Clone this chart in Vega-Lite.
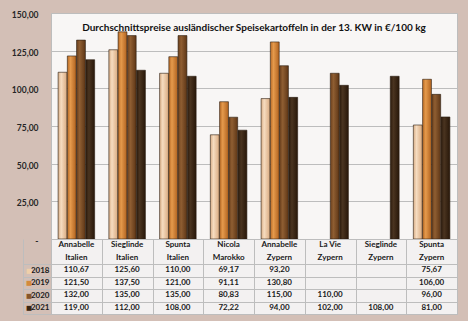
{
  "$schema": "https://vega.github.io/schema/vega-lite/v6.json",
  "background": "#d3bfb6",
  "padding": {"left": 10, "top": 10, "right": 12, "bottom": 7},
  "config": {
    "locale": {"number": {"decimal": ",", "thousands": ".", "grouping": [3], "currency": ["", " €"]}},
    "font": "Lato",
    "view": {"stroke": null}
  },
  "datasets": {
    "prices": [
      {"cat": "Annabelle Italien", "year": "2018", "value": 110.67},
      {"cat": "Annabelle Italien", "year": "2019", "value": 121.50},
      {"cat": "Annabelle Italien", "year": "2020", "value": 132.00},
      {"cat": "Annabelle Italien", "year": "2021", "value": 119.00},
      {"cat": "Sieglinde Italien", "year": "2018", "value": 125.60},
      {"cat": "Sieglinde Italien", "year": "2019", "value": 137.50},
      {"cat": "Sieglinde Italien", "year": "2020", "value": 135.00},
      {"cat": "Sieglinde Italien", "year": "2021", "value": 112.00},
      {"cat": "Spunta Italien", "year": "2018", "value": 110.00},
      {"cat": "Spunta Italien", "year": "2019", "value": 121.00},
      {"cat": "Spunta Italien", "year": "2020", "value": 135.00},
      {"cat": "Spunta Italien", "year": "2021", "value": 108.00},
      {"cat": "Nicola Marokko", "year": "2018", "value": 69.17},
      {"cat": "Nicola Marokko", "year": "2019", "value": 91.11},
      {"cat": "Nicola Marokko", "year": "2020", "value": 80.83},
      {"cat": "Nicola Marokko", "year": "2021", "value": 72.22},
      {"cat": "Annabelle Zypern", "year": "2018", "value": 93.20},
      {"cat": "Annabelle Zypern", "year": "2019", "value": 130.80},
      {"cat": "Annabelle Zypern", "year": "2020", "value": 115.00},
      {"cat": "Annabelle Zypern", "year": "2021", "value": 94.00},
      {"cat": "La Vie Zypern", "year": "2020", "value": 110.00},
      {"cat": "La Vie Zypern", "year": "2021", "value": 102.00},
      {"cat": "Sieglinde Zypern", "year": "2021", "value": 108.00},
      {"cat": "Spunta Zypern", "year": "2018", "value": 75.67},
      {"cat": "Spunta Zypern", "year": "2019", "value": 106.00},
      {"cat": "Spunta Zypern", "year": "2020", "value": 96.00},
      {"cat": "Spunta Zypern", "year": "2021", "value": 81.00}
    ],
    "cats": [
      {"cat": "Annabelle Italien", "variety": "Annabelle", "country": "Italien"},
      {"cat": "Sieglinde Italien", "variety": "Sieglinde", "country": "Italien"},
      {"cat": "Spunta Italien", "variety": "Spunta", "country": "Italien"},
      {"cat": "Nicola Marokko", "variety": "Nicola", "country": "Marokko"},
      {"cat": "Annabelle Zypern", "variety": "Annabelle", "country": "Zypern"},
      {"cat": "La Vie Zypern", "variety": "La Vie", "country": "Zypern"},
      {"cat": "Sieglinde Zypern", "variety": "Sieglinde", "country": "Zypern"},
      {"cat": "Spunta Zypern", "variety": "Spunta", "country": "Zypern"}
    ]
  },
  "bounds": "flush",
  "spacing": 0,
  "vconcat": [
    {
      "width": 406,
      "height": 226,
      "data": {"name": "prices"},
      "view": {"fill": "#f8f6f5", "stroke": "#bdbdbd"},
      "title": {"text": "Durchschnittspreise ausländischer Speisekartoffeln in der 13. KW in €/100 kg", "fontSize": 10, "fontWeight": "bold", "color": "#111111", "anchor": "middle", "frame": "group", "offset": -22},
      "mark": {"type": "bar", "stroke": "#2a1c10", "strokeWidth": 0.6},
      "encoding": {
        "x": {"field": "cat", "type": "nominal", "sort": ["Annabelle Italien", "Sieglinde Italien", "Spunta Italien", "Nicola Marokko", "Annabelle Zypern", "La Vie Zypern", "Sieglinde Zypern", "Spunta Zypern"], "scale": {"paddingInner": 0.28, "paddingOuter": 0.14}, "axis": null},
        "xOffset": {"field": "year", "type": "nominal", "scale": {"domain": ["2018", "2019", "2020", "2021"], "paddingInner": 0.04}},
        "y": {"field": "value", "type": "quantitative", "scale": {"domain": [0, 150], "nice": false},
          "axis": {"values": [0, 25, 50, 75, 100, 125, 150], "format": ".2f", "labelExpr": "datum.value == 0 ? '-\u2002\u2006' : datum.label", "labelPadding": 13, "labelOffset": 1.5, "ticks": false, "domain": false, "grid": true, "gridColor": "#bdbdbd", "labelFontSize": 8.5, "labelFontWeight": "bold", "labelColor": "#262626", "title": null}},
        "fill": {
          "condition": [
            {"test": "datum.year == '2018'", "value": {"gradient": "linear", "x1": 0, "x2": 1, "y1": 0, "y2": 0, "stops": [{"offset": 0, "color": "#d8ad86"}, {"offset": 0.35, "color": "#f6dcc0"}, {"offset": 1, "color": "#d9aa80"}]}},
            {"test": "datum.year == '2019'", "value": {"gradient": "linear", "x1": 0, "x2": 1, "y1": 0, "y2": 0, "stops": [{"offset": 0, "color": "#b86a25"}, {"offset": 0.35, "color": "#e59a4c"}, {"offset": 1, "color": "#b0621f"}]}},
            {"test": "datum.year == '2020'", "value": {"gradient": "linear", "x1": 0, "x2": 1, "y1": 0, "y2": 0, "stops": [{"offset": 0, "color": "#6a3f1c"}, {"offset": 0.35, "color": "#8f5e32"}, {"offset": 1, "color": "#5e3616"}]}}
          ],
          "value": {"gradient": "linear", "x1": 0, "x2": 1, "y1": 0, "y2": 0, "stops": [{"offset": 0, "color": "#2c1b0d"}, {"offset": 0.35, "color": "#4a3420"}, {"offset": 1, "color": "#281709"}]}
        }
      }
    },
    {
      "width": 406,
      "height": 75,
      "view": {"fill": "#f3f1f1", "stroke": "#bdbdbd"},
      "resolve": {"scale": {"y": "independent"}, "axis": {"y": "independent"}},
      "layer": [
        {
          "layer": [
            {
              "data": {"name": "prices"},
              "mark": {"type": "text", "fontSize": 8, "fontWeight": "bold", "color": "#1a1a1a"},
              "encoding": {
                "x": {"field": "cat", "type": "nominal", "sort": ["Annabelle Italien", "Sieglinde Italien", "Spunta Italien", "Nicola Marokko", "Annabelle Zypern", "La Vie Zypern", "Sieglinde Zypern", "Spunta Zypern"], "scale": {"type": "band", "paddingInner": 0, "paddingOuter": 0},
                  "axis": {"orient": "top", "title": null, "labels": false, "ticks": false, "domain": false, "grid": true, "tickBand": "extent", "gridColor": "#bdbdbd"}},
                "y": {"field": "year", "type": "nominal", "scale": {"domain": ["h1", "h2", "2018", "2019", "2020", "2021"], "paddingInner": 0, "paddingOuter": 0},
                  "axis": {"orient": "left", "title": null, "domain": false, "values": ["2018", "2019", "2020", "2021"], "tickBand": "extent", "tickSize": 28, "tickColor": "#bdbdbd",
                    "grid": true, "gridColor": "#bdbdbd",
                    "labelPadding": -26, "labelFontSize": 8, "labelFontWeight": "bold", "labelColor": "#1a1a1a"}},
                "text": {"field": "value", "type": "quantitative", "format": ".2f"}
              }
            },
            {
              "data": {"name": "cats"},
              "mark": {"type": "text", "fontSize": 8, "fontWeight": "bold", "color": "#1a1a1a"},
              "encoding": {
                "x": {"field": "cat", "type": "nominal", "sort": ["Annabelle Italien", "Sieglinde Italien", "Spunta Italien", "Nicola Marokko", "Annabelle Zypern", "La Vie Zypern", "Sieglinde Zypern", "Spunta Zypern"], "title": null},
                "y": {"datum": "h1", "type": "nominal", "title": null},
                "text": {"field": "variety"}
              }
            },
            {
              "data": {"name": "cats"},
              "mark": {"type": "text", "fontSize": 8, "fontWeight": "bold", "color": "#1a1a1a"},
              "encoding": {
                "x": {"field": "cat", "type": "nominal", "sort": ["Annabelle Italien", "Sieglinde Italien", "Spunta Italien", "Nicola Marokko", "Annabelle Zypern", "La Vie Zypern", "Sieglinde Zypern", "Spunta Zypern"], "title": null},
                "y": {"datum": "h2", "type": "nominal", "title": null},
                "text": {"field": "country"}
              }
            }
          ]
        },
        {
          "data": {"name": "prices"},
          "mark": {"type": "text", "opacity": 0},
          "encoding": {
            "x": {"field": "cat", "type": "nominal", "sort": ["Annabelle Italien", "Sieglinde Italien", "Spunta Italien", "Nicola Marokko", "Annabelle Zypern", "La Vie Zypern", "Sieglinde Zypern", "Spunta Zypern"], "title": null},
            "y": {"field": "year", "type": "nominal", "scale": {"domain": ["h1", "h2", "2018", "2019", "2020", "2021"], "paddingInner": 0, "paddingOuter": 0},
              "axis": {"orient": "left", "title": null, "offset": 28, "domain": true, "domainColor": "#bdbdbd", "ticks": false, "grid": false,
                "values": ["2018", "2019", "2020", "2021"],
                "labelExpr": "'■'",
                "labelAlign": "left", "labelPadding": -2.5, "labelFont": "DejaVu Sans", "labelFontSize": 6.5,
                "labelColor": {"condition": [
                  {"test": "datum.value == '2018'", "value": "#efcfaa"},
                  {"test": "datum.value == '2019'", "value": "#d48a3c"},
                  {"test": "datum.value == '2020'", "value": "#87552a"}
                ], "value": "#3a2513"}}},
            "text": {"value": ""}
          }
        }
      ]
    }
  ]
}
